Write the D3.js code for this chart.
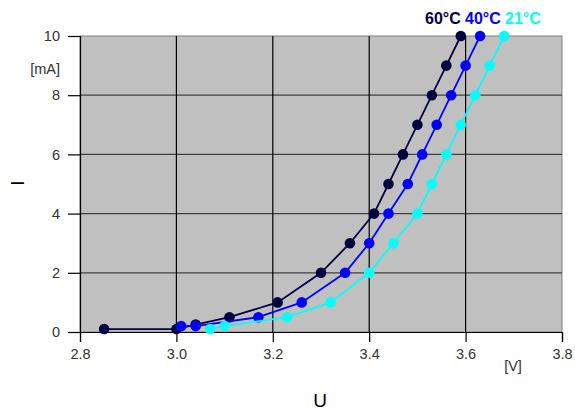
<!DOCTYPE html>
<html><head><meta charset="utf-8">
<script src="https://cdn.jsdelivr.net/npm/d3@7"></script>
<style>body{margin:0;background:#fff;} text{font-family:"Liberation Sans",Arial,sans-serif;}</style>
</head><body><svg id="c" width="575" height="411"></svg>
<script>
const xTicks = [2.8, 3.0, 3.2, 3.4, 3.6, 3.8];
const yTicks = [0, 2, 4, 6, 8, 10];
const seriesNames = ["60°C", "40°C", "21°C"];
const seriesColors = ["#000040", "#0000ff", "#00ffff"];
const v60 = [2.85, 3.00, 3.04, 3.11, 3.21, 3.30, 3.36, 3.41, 3.44, 3.47, 3.50, 3.53, 3.56, 3.59];
const i60 = [0.1, 0.1, 0.25, 0.5, 1, 2, 3, 4, 5, 6, 7, 8, 9, 10];
const v40 = [3.01, 3.04, 3.17, 3.26, 3.35, 3.40, 3.44, 3.48, 3.51, 3.54, 3.57, 3.60, 3.63];
const i40 = [0.2, 0.2, 0.5, 1, 2, 3, 4, 5, 6, 7, 8, 9, 10];
const v21 = [3.07, 3.10, 3.23, 3.32, 3.40, 3.45, 3.50, 3.53, 3.56, 3.59, 3.62, 3.65, 3.68];
const i21 = [0.1, 0.2, 0.5, 1, 2, 3, 4, 5, 6, 7, 8, 9, 10];

const svg = d3.select("#c");
const L = 80, R = 562, T = 36, B = 332;
const x = d3.scaleLinear().domain([2.8, 3.8]).range([L, R]);
const y = d3.scaleLinear().domain([0, 10]).range([B, T]);

svg.append("rect").attr("x", L).attr("y", T).attr("width", R - L).attr("height", B - T)
  .attr("fill", "#c0c0c0").attr("stroke", "#808080").attr("stroke-width", 1);

svg.append("g").selectAll("line").data(yTicks.filter(d => d > 0 && d < 10)).join("line")
  .attr("x1", L).attr("x2", R).attr("y1", d => y(d)).attr("y2", d => y(d))
  .attr("stroke", "#404040").attr("stroke-width", 1.2);
svg.append("g").selectAll("line").data(xTicks.filter(d => d > 2.8 && d < 3.8)).join("line")
  .attr("x1", d => x(d)).attr("x2", d => x(d)).attr("y1", T).attr("y2", B)
  .attr("stroke", "#000").attr("stroke-width", 1.2);

const xAxis = svg.append("g").attr("transform", `translate(0,${B})`)
  .call(d3.axisBottom(x).tickValues(xTicks).tickFormat(d3.format(".1f")).tickSize(10).tickPadding(7));
const yAxis = svg.append("g").attr("transform", `translate(${L},0)`)
  .call(d3.axisLeft(y).tickValues(yTicks).tickFormat(d3.format("d")).tickSize(12).tickPadding(8));
[xAxis, yAxis].forEach(g => {
  g.attr("font-size", null).attr("font-family", null);
  g.select(".domain").attr("stroke", "#000").attr("stroke-width", 1.2);
  g.selectAll(".tick line").attr("stroke", "#000").attr("stroke-width", 1.2);
  g.selectAll(".tick text").attr("fill", "#333").style("font-size", "14.5px")
    .style("font-family", '"Liberation Sans",Arial,sans-serif');
});

const data = [[v60, i60], [v40, i40], [v21, i21]];
const line = d3.line().x(d => x(d[0])).y(d => y(d[1]));
data.forEach(([vs, is], k) => {
  const pts = vs.map((v, j) => [v, is[j]]);
  svg.append("path").datum(pts).attr("d", line).attr("fill", "none")
    .attr("stroke", seriesColors[k]).attr("stroke-width", 1.8);
  svg.append("g").selectAll("circle").data(pts).join("circle")
    .attr("cx", d => x(d[0])).attr("cy", d => y(d[1])).attr("r", 5.3)
    .attr("fill", seriesColors[k]);
});

const legX = [425, 465, 505];
seriesNames.forEach((n, k) => {
  svg.append("text").attr("x", legX[k]).attr("y", 24).text(n)
    .attr("fill", seriesColors[k]).style("font-size", "16px").style("font-weight", "bold");
});

svg.append("text").attr("x", 60).attr("y", 74).attr("text-anchor", "end").text("[mA]")
  .attr("fill", "#333").style("font-size", "14.5px");
svg.append("text").attr("x", 513).attr("y", 371).attr("text-anchor", "middle").text("[V]")
  .attr("fill", "#333").style("font-size", "14.5px");
svg.append("text").attr("x", 320).attr("y", 407).attr("text-anchor", "middle").text("U")
  .attr("fill", "#000").style("font-size", "19px");
svg.append("text").attr("transform", "translate(24,183) rotate(-90)").attr("text-anchor", "middle").text("I")
  .attr("fill", "#000").style("font-size", "19px");
</script></body></html>
